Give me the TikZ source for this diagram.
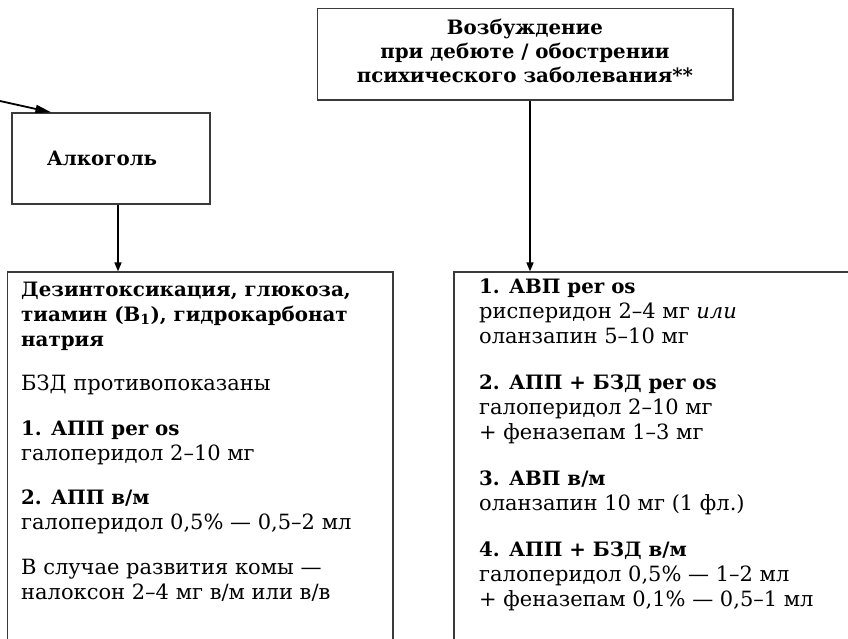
\documentclass[tikz,border=0pt]{standalone}
\usepackage{fontspec}
\setmainfont{DejaVu Serif}
\usetikzlibrary{arrows.meta}
\definecolor{boxgray}{HTML}{3A3A3A}
\begin{document}
\begin{tikzpicture}[x=1pt,y=-1pt,
  box/.style={draw=boxgray, line width=1.2pt, inner sep=0pt, rectangle},
  tl/.style={anchor=base west, inner sep=0pt, font=\fontsize{21}{25}\selectfont},
  tb/.style={anchor=base west, inner sep=0pt, font=\fontsize{19.8}{25}\selectfont\bfseries},
  tc/.style={anchor=base, inner sep=0pt, font=\fontsize{19.8}{25}\selectfont\bfseries},
  conn/.style={-{Triangle[length=9pt,width=7pt]}, line width=1.6pt},
  inarr/.style={-{Triangle[length=16pt,width=8pt]}, line width=1.8pt}]
\useasboundingbox (0,0) rectangle (848,638);
\clip (0,0) rectangle (848,638);
% boxes
\node[box, minimum width=415.5pt, minimum height=91.5pt] (top) at (525.25,54.25) {};
\node[box, minimum width=198pt, minimum height=91pt] (alk) at (111,158.5) {};
\node[box, minimum width=385.5pt, minimum height=428pt] (lbox) at (200.25,486) {};
\node[box, minimum width=446pt, minimum height=428pt] (rbox) at (677,486) {};
% top box text
\node[tc] (t1) at (525,34) {Возбуждение};
\node[tc] (t2) at (525,58) {при дебюте / обострении};
\node[tc] (t3) at (525,82) {психического заболевания**};
% alcohol
\node[tc] (a1) at (102,165) {Алкоголь};
% left box text
\node[tb] (l1) at (21,296) {Дезинтоксикация, глюкоза,};
\node[tb] (l2) at (21,321) {тиамин (B\textsubscript{1}), гидрокарбонат};
\node[tb] (l3) at (21,346) {натрия};
\node[tl] (l4) at (21,390) {БЗД противопоказаны};
\node[tb] (l5) at (21,435) {1. АПП per os};
\node[tl] (l6) at (21,460) {галоперидол 2–10 мг};
\node[tb] (l7) at (21,504) {2. АПП в/м};
\node[tl] (l8) at (21,529) {галоперидол 0,5\% — 0,5–2 мл};
\node[tl] (l9) at (21,574) {В случае развития комы —};
\node[tl] (l10) at (21,599) {налоксон 2–4 мг в/м или в/в};
% right box text
\node[tb] (r1) at (479,293) {1. АВП per os};
\node[tl] (r2) at (479,318) {рисперидон 2–4 мг \textit{или}};
\node[tl] (r3) at (479,343) {оланзапин 5–10 мг};
\node[tb] (r4) at (479,389) {2. АПП + БЗД per os};
\node[tl] (r5) at (479,414) {галоперидол 2–10 мг};
\node[tl] (r6) at (479,439) {+ феназепам 1–3 мг};
\node[tb] (r7) at (479,485) {3. АВП в/м};
\node[tl] (r8) at (479,510) {оланзапин 10 мг (1 фл.)};
\node[tb] (r9) at (479,556) {4. АПП + БЗД в/м};
\node[tl] (r10) at (479,581) {галоперидол 0,5\% — 1–2 мл};
\node[tl] (r11) at (479,606) {+ феназепам 0,1\% — 0,5–1 мл};
% connectors
\coordinate (ax) at (118,0);
\coordinate (bx) at (530,0);
\coordinate (inA) at (0,101);
\draw[inarr] (inA) -- ([xshift=40pt]alk.north west);
\draw[conn] (alk.south -| ax) -- (ax |- lbox.north);
\draw[conn] (top.south -| bx) -- (bx |- rbox.north);
\end{tikzpicture}
\end{document}
